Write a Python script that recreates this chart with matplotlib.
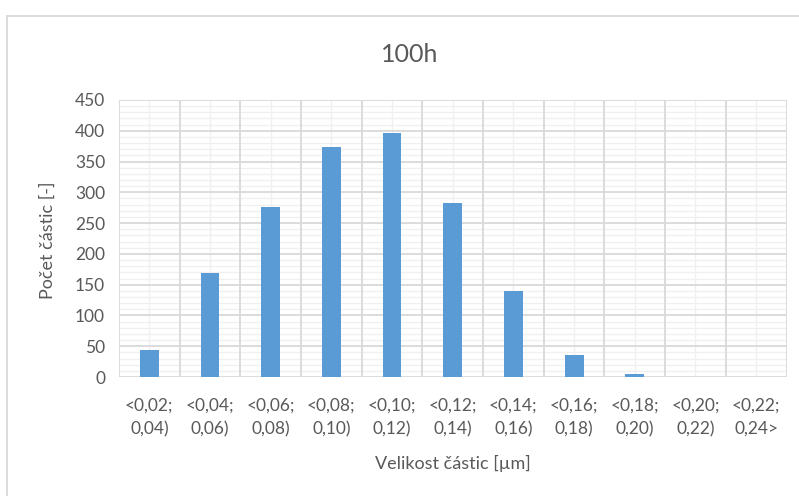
import matplotlib.pyplot as plt
from matplotlib.patches import Rectangle
import numpy as np

# particle size histogram after 100 h
size_bins = ['<0,02;\n0,04)', '<0,04;\n0,06)', '<0,06;\n0,08)', '<0,08;\n0,10)',
             '<0,10;\n0,12)', '<0,12;\n0,14)', '<0,14;\n0,16)', '<0,16;\n0,18)',
             '<0,18;\n0,20)', '<0,20;\n0,22)', '<0,22;\n0,24>']
counts = [44, 169, 276, 374, 397, 283, 139, 35, 5, 0, 0]
yticks = [0, 50, 100, 150, 200, 250, 300, 350, 400, 450]

text_col = '#595959'
bar_col = '#5b9bd5'
plt.rcParams['font.family'] = ['Lato', 'DejaVu Sans']

fig = plt.figure(figsize=(7.99, 4.96), dpi=100)
ax = fig.add_axes([119 / 799, 1 - 377 / 496, (786.5 - 119) / 799, (377 - 100) / 496])

x = np.arange(len(counts))
ax.bar(x, counts, width=0.31, color=bar_col, zorder=3)

ax.set_xlim(-0.5, len(counts) - 0.5)
ax.set_ylim(0, 450)

# major grid on category borders and every 50, minor on centres and every 10
for b in np.arange(-0.5, len(counts), 1.0):
    ax.axvline(b, color='#d9d9d9', lw=1.3, zorder=1)
for c in x:
    ax.axvline(c, color='#f0f0f0', lw=1.0, zorder=0.5)
for v in range(0, 451, 10):
    if v % 50 == 0:
        ax.axhline(v, color='#d9d9d9', lw=1.3, zorder=1)
    else:
        ax.axhline(v, color='#f0f0f0', lw=1.0, zorder=0.5)

for s in ax.spines.values():
    s.set_visible(False)

ax.set_yticks(yticks)
ax.set_yticklabels([str(v) for v in yticks], fontsize=12.5, color=text_col)
ax.set_xticks(x)
ax.set_xticklabels(size_bins, fontsize=12.5, color=text_col, linespacing=1.55)
ax.tick_params(length=0)
ax.tick_params(axis='y', pad=10)
ax.tick_params(axis='x', pad=15)

fig.text(410 / 799, 1 - 55 / 496, '100h', ha='center', va='center',
         fontsize=18, color=text_col)
fig.text(0.5 * (119 + 786.5) / 799, 1 - 463 / 496, 'Velikost částic [µm]', ha='center',
         va='center', fontsize=13, color=text_col)
fig.text(48 / 799, 1 - 240 / 496, 'Počet částic [-]', ha='center', va='center',
         rotation=90, fontsize=13, color=text_col)

# chart area border
fig.patches.append(Rectangle((7 / 799, -0.1), 1.2, 1 - 16 / 496 + 0.1,
                             transform=fig.transFigure, fill=False,
                             edgecolor='#d9d9d9', lw=1.3))

fig.savefig('out.png', dpi=100)
